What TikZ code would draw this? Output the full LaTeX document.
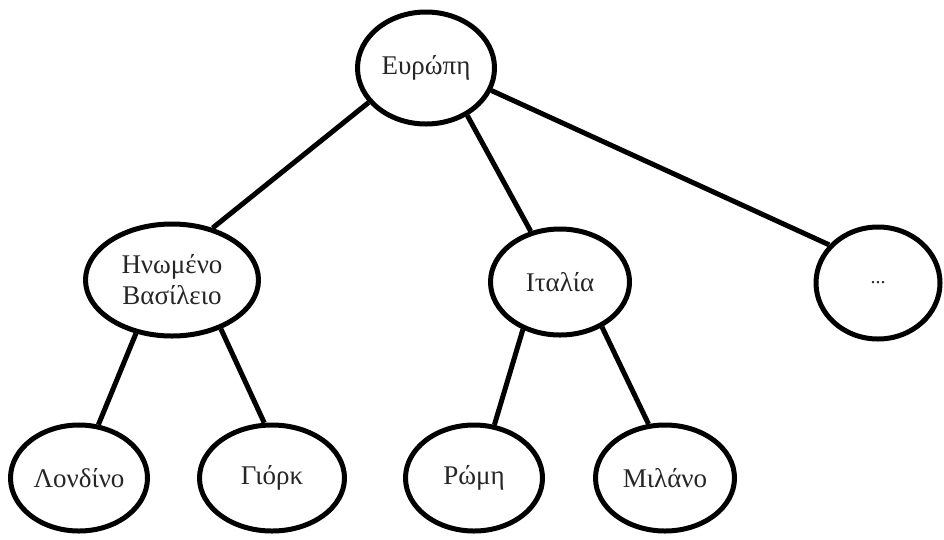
\documentclass[tikz,border=0pt]{standalone}
\usepackage{fontspec}
\setmainfont{Liberation Serif}
\usetikzlibrary{shapes.geometric}
\begin{document}
\begin{tikzpicture}[x=1pt,y=-1pt,
  place/.style={ellipse,draw=black,line width=5pt,inner sep=0pt,
    font=\fontsize{27}{31}\selectfont,text=black!85,align=center},
  link/.style={draw=black,line width=5pt}]
  \useasboundingbox (0,0) rectangle (944,539);
  % tree nodes
  \node[place,minimum width=137pt,minimum height=112pt] (eu) at (426,68) {Ευρώπη};
  \node[place,minimum width=173pt,minimum height=112pt] (uk) at (172,280) {Ηνωμένο\\Βασίλειο};
  \node[place,minimum width=139pt,minimum height=106pt] (it) at (560,282) {Ιταλία};
  \node[place,minimum width=124pt,minimum height=112pt] (more) at (878,283) {\fontsize{20}{22}\selectfont ...};
  \node[place,minimum width=137pt,minimum height=106pt] (lon) at (79,478) {Λονδίνο};
  \node[place,minimum width=145pt,minimum height=106pt] (york) at (272,478) {Γιόρκ};
  \node[place,minimum width=137pt,minimum height=106pt] (rome) at (474,478) {Ρώμη};
  \node[place,minimum width=139pt,minimum height=106pt] (mil) at (665,478) {Μιλάνο};
  % edges
  \draw[link] (eu.211) -- (uk.52);
  \draw[link] (eu.311) -- (it.120);
  \draw[link] (eu.341) -- (more.142);
  \draw[link] (uk.236) -- (lon.70);
  \draw[link] (uk.315) -- (york.98);
  \draw[link] (it.232) -- (rome.69);
  \draw[link] (it.313) -- (mil.107);
\end{tikzpicture}
\end{document}
